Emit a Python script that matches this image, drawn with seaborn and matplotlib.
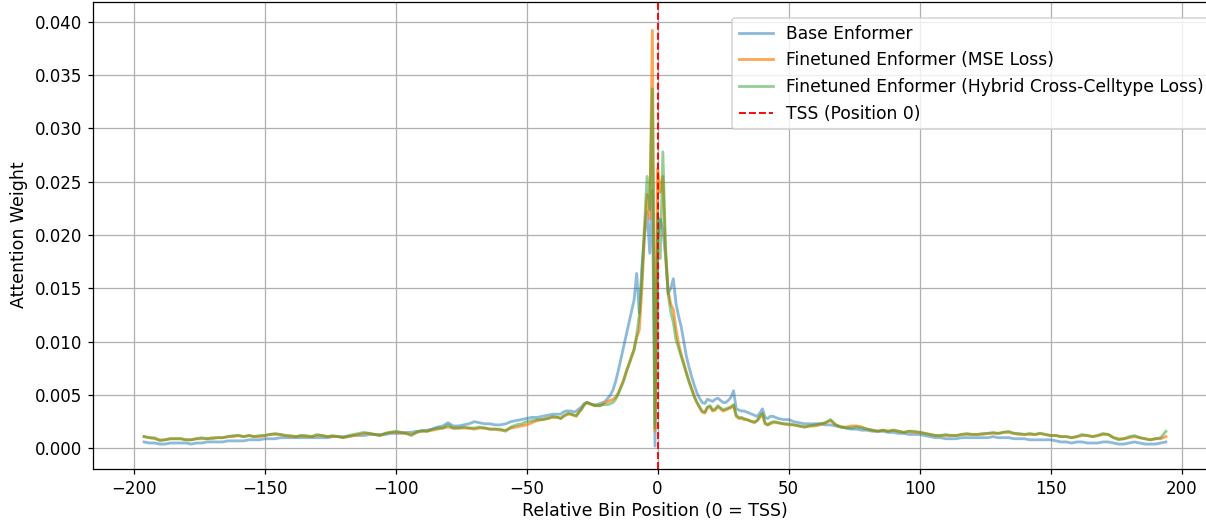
import numpy as np
import pandas as pd
import matplotlib
matplotlib.use("Agg")
import matplotlib.pyplot as plt
import seaborn as sns

# ---- bin positions (relative to TSS) ----
left_pos = np.arange(-196, -37, 2)     # -196 .. -38, every 2nd bin
center_pos = np.arange(-37, 46)        # -37 .. 45, every bin
right_pos = np.arange(46, 195, 2)      # 46 .. 194, every 2nd bin

# ---- attention weights, in units of 1e-4 ----
base_left = [6, 5, 5, 4, 4, 5, 5, 5, 5, 4,
             5, 5, 6, 6, 6, 6, 7, 7, 7, 7,
             8, 8, 8, 9, 9, 9, 10, 10, 10, 10,
             10, 10, 10, 10, 10, 10, 11, 11, 11, 11,
             12, 12, 12, 13, 13, 13, 13, 14, 14, 14,
             15, 15, 16, 16, 17, 18, 20, 21, 24, 21,
             21, 22, 23, 25, 24, 23, 23, 22, 22, 23,
             25, 26, 27, 28, 29, 29, 30, 31, 32, 32]
base_center = [32, 34, 35, 35, 35, 34, 35, 37, 39, 42,
               43, 42, 41, 41, 41, 42, 43, 44, 47, 50,
               55, 63, 73, 84, 95, 106, 117, 128, 139, 164,
               127, 170, 200, 222, 183, 242, 2, 195, 215, 205,
               180, 145, 150, 159, 136, 124, 114, 100, 86, 76,
               67, 59, 52, 47, 43, 42, 46, 45, 44, 46,
               47, 45, 43, 43, 45, 48, 54, 37, 36, 35,
               35, 34, 33, 32, 31, 30, 33, 37, 29, 28,
               30, 30, 29]
base_right = [28, 27, 27, 25, 24, 23, 23, 23, 23, 22,
              22, 21, 20, 19, 18, 18, 17, 17, 16, 16,
              16, 15, 15, 14, 14, 13, 13, 13, 12, 11,
              10, 10, 9, 9, 9, 10, 10, 10, 10, 10,
              10, 11, 10, 10, 10, 9, 9, 9, 8, 8,
              8, 8, 8, 7, 6, 6, 5, 6, 6, 5,
              5, 5, 6, 6, 5, 4, 4, 5, 6, 5,
              4, 4, 4, 5, 6]

mse_left = [11, 10, 9, 8, 8, 9, 9, 9, 8, 8,
            9, 9, 9, 10, 10, 10, 11, 11, 12, 11,
            12, 11, 11, 12, 13, 13, 13, 12, 11, 11,
            12, 11, 11, 12, 12, 11, 11, 11, 10, 11,
            12, 13, 14, 14, 13, 12, 14, 15, 15, 15,
            14, 13, 15, 16, 16, 17, 18, 19, 20, 19,
            19, 19, 19, 18, 19, 19, 18, 18, 17, 17,
            19, 20, 21, 22, 24, 26, 27, 28, 29, 29]
mse_center = [28, 30, 31, 32, 32, 31, 30, 34, 37, 41,
              43, 42, 41, 40, 40, 40, 41, 43, 44, 45,
              46, 48, 52, 58, 64, 72, 79, 86, 93, 104,
              111, 150, 200, 238, 215, 392, 16, 262, 240, 255,
              185, 148, 135, 130, 112, 98, 88, 80, 71, 63,
              56, 49, 43, 38, 34, 33, 38, 39, 35, 36,
              39, 37, 35, 36, 37, 38, 40, 30, 28, 28,
              27, 27, 26, 25, 24, 26, 29, 32, 23, 22,
              23, 24, 24]
mse_right = [24, 23, 22, 22, 21, 20, 21, 21, 22, 24,
             26, 22, 20, 20, 21, 21, 20, 18, 17, 16,
             17, 16, 17, 16, 15, 16, 15, 15, 14, 13,
             12, 12, 12, 12, 12, 13, 13, 13, 13, 13,
             14, 14, 14, 15, 15, 14, 13, 13, 13, 13,
             14, 13, 12, 12, 11, 11, 10, 11, 12, 12,
             11, 12, 13, 13, 10, 9, 9, 10, 11, 10,
             9, 8, 9, 9, 11]

hybrid_left = [11, 10, 10, 7, 8, 9, 9, 9, 8, 8,
               9, 10, 9, 9, 10, 10, 11, 12, 12, 11,
               12, 11, 12, 12, 13, 14, 13, 12, 12, 11,
               12, 12, 11, 13, 12, 11, 12, 11, 10, 12,
               13, 14, 15, 14, 13, 12, 14, 15, 16, 15,
               14, 12, 15, 17, 16, 18, 19, 19, 22, 19,
               19, 20, 19, 19, 20, 19, 18, 18, 18, 16,
               20, 22, 23, 25, 26, 27, 27, 28, 30, 29]
hybrid_center = [28, 30, 32, 33, 32, 31, 31, 34, 37, 41,
                 43, 42, 41, 40, 40, 40, 41, 41, 41, 42,
                 43, 46, 51, 57, 63, 71, 78, 85, 92, 106,
                 125, 160, 210, 255, 224, 337, 19, 220, 178, 278,
                 190, 145, 128, 118, 102, 94, 86, 78, 70, 62,
                 55, 48, 43, 39, 35, 34, 39, 40, 36, 37,
                 40, 38, 36, 37, 38, 39, 41, 31, 29, 29,
                 28, 27, 26, 25, 25, 26, 30, 33, 24, 22,
                 24, 25, 25]
hybrid_right = [24, 23, 23, 22, 21, 20, 21, 22, 23, 24,
                27, 22, 20, 19, 19, 20, 19, 18, 17, 16,
                17, 16, 17, 16, 15, 16, 16, 15, 14, 13,
                12, 12, 13, 12, 12, 13, 14, 13, 13, 14,
                14, 15, 14, 15, 16, 14, 14, 13, 14, 13,
                14, 13, 12, 12, 11, 11, 10, 11, 13, 12,
                11, 12, 14, 13, 10, 8, 9, 11, 12, 10,
                9, 8, 9, 10, 16]

labels = ["Base Enformer",
          "Finetuned Enformer (MSE Loss)",
          "Finetuned Enformer (Hybrid Cross-Celltype Loss)"]
tss_label = "TSS (Position 0)"

positions = np.concatenate([left_pos, center_pos, right_pos])
series = {
    labels[0]: np.array(base_left + base_center + base_right) * 1e-4,
    labels[1]: np.array(mse_left + mse_center + mse_right) * 1e-4,
    labels[2]: np.array(hybrid_left + hybrid_center + hybrid_right) * 1e-4,
}
colors = {labels[0]: "#1f77b4", labels[1]: "#ff7f0e", labels[2]: "#2ca02c"}
alphas = {labels[0]: 0.5, labels[1]: 0.7, labels[2]: 0.5}

DPI = 113
fig = plt.figure(figsize=(1206 / DPI, 520 / DPI), dpi=DPI)
ax = fig.add_axes([93 / 1206, 1 - 468.6 / 520, (1217 - 93) / 1206, (468.6 - 1.5) / 520])

for name, vals in series.items():
    df = pd.DataFrame({"pos": positions, "w": vals})
    sns.lineplot(data=df, x="pos", y="w", ax=ax, color=colors[name],
                 alpha=alphas[name], linewidth=1.8, label=name)

ax.axvline(0, color="red", linestyle="--", linewidth=1.2, label=tss_label)

ax.set_xlim(-215.5, 213.5)
ax.set_ylim(-0.0019, 0.0419)
ax.set_xticks(np.arange(-200, 201, 50))
ax.set_yticks(np.arange(0, 0.0401, 0.005))
ax.tick_params(labelsize=10.6)
ax.set_xlabel("Relative Bin Position (0 = TSS)", fontsize=11.1, labelpad=3)
ax.set_ylabel("Attention Weight", fontsize=11.1)
ax.grid(True)

ax.legend(loc="upper right", bbox_to_anchor=(1211 / 1206, 1 - 18 / 520),
          bbox_transform=fig.transFigure, borderaxespad=0, fontsize=10.9)

fig.savefig("out.png", dpi=DPI)
